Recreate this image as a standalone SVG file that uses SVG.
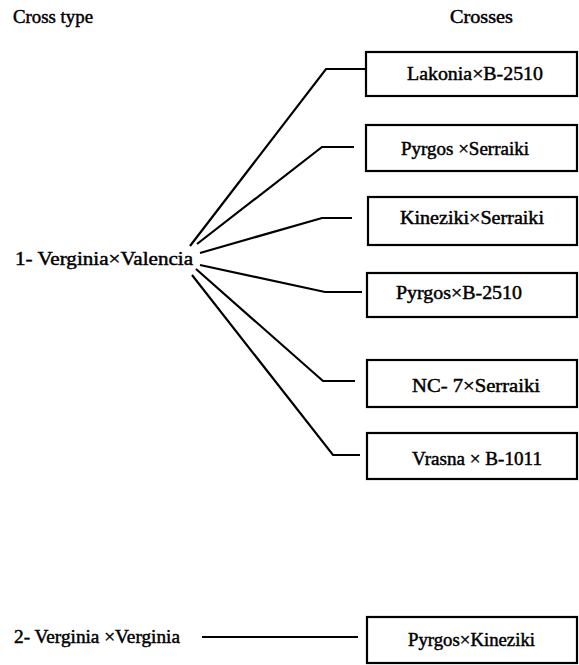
<svg xmlns="http://www.w3.org/2000/svg" width="579" height="665" viewBox="0 0 579 665" font-family="Liberation Serif" font-size="18">
<style>
text{fill:#000;stroke:#000;stroke-width:0.45}
.box{fill:#fff;stroke:#000;stroke-width:2.2}
.c{fill:none;stroke:#000;stroke-width:2.2;stroke-linejoin:miter}
</style>
<rect width="579" height="665" fill="#fff"/>
<g id="headers">
<text x="13" y="23" textLength="80" lengthAdjust="spacingAndGlyphs">Cross type</text>
<text x="450" y="23" textLength="63" lengthAdjust="spacingAndGlyphs">Crosses</text>
</g>
<g id="connectors">
<polyline class="c" points="190,246 326,69 366,69"/>
<polyline class="c" points="197,244 322,147 354,147"/>
<polyline class="c" points="200,253 322,218 352,218"/>
<polyline class="c" points="200,265 325,292 362,292"/>
<polyline class="c" points="196,269 323,381 355,381"/>
<polyline class="c" points="192,275 333,455 360,455"/>
<line class="c" x1="202" y1="637" x2="358" y2="637"/>
</g>
<g id="type1">
<text x="15" y="265" textLength="178" lengthAdjust="spacingAndGlyphs">1- Verginia×Valencia</text>
</g>
<g id="type2">
<text x="14" y="643" textLength="166" lengthAdjust="spacingAndGlyphs">2- Verginia ×Verginia</text>
</g>
<g id="cross1">
<rect class="box" x="366" y="52" width="211" height="44"/>
<text x="407" y="80" textLength="136" lengthAdjust="spacingAndGlyphs">Lakonia×B-2510</text>
</g>
<g id="cross2">
<rect class="box" x="366" y="125" width="211" height="46"/>
<text x="401" y="155" textLength="128" lengthAdjust="spacingAndGlyphs">Pyrgos ×Serraiki</text>
</g>
<g id="cross3">
<rect class="box" x="368" y="197" width="209" height="48"/>
<text x="400" y="224" textLength="144" lengthAdjust="spacingAndGlyphs">Kineziki×Serraiki</text>
</g>
<g id="cross4">
<rect class="box" x="367" y="273" width="210" height="44"/>
<text x="396" y="299" textLength="126" lengthAdjust="spacingAndGlyphs">Pyrgos×B-2510</text>
</g>
<g id="cross5">
<rect class="box" x="367" y="360" width="210" height="47"/>
<text x="412" y="392" textLength="128" lengthAdjust="spacingAndGlyphs">NC- 7×Serraiki</text>
</g>
<g id="cross6">
<rect class="box" x="367" y="433" width="210" height="46"/>
<text x="412" y="465" textLength="130" lengthAdjust="spacingAndGlyphs">Vrasna × B-1011</text>
</g>
<g id="cross7">
<rect class="box" x="367" y="617" width="210" height="46"/>
<text x="408" y="646" textLength="127" lengthAdjust="spacingAndGlyphs">Pyrgos×Kineziki</text>
</g>
</svg>
